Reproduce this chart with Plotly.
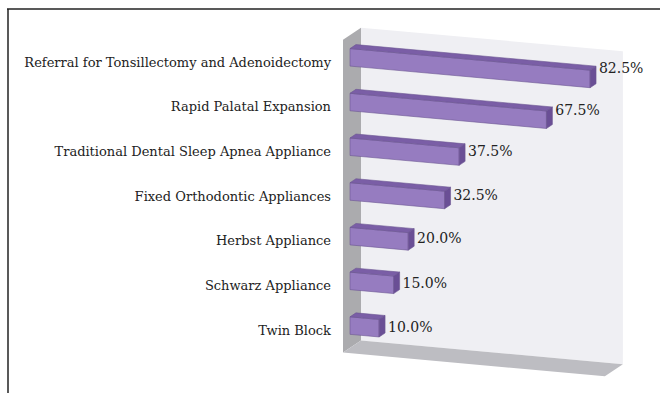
import plotly.graph_objects as go

# Survey results: share of respondents per treatment option
categories = [
    "Referral for Tonsillectomy and Adenoidectomy",
    "Rapid Palatal Expansion",
    "Traditional Dental Sleep Apnea Appliance",
    "Fixed Orthodontic Appliances",
    "Herbst Appliance",
    "Schwarz Appliance",
    "Twin Block",
]
values = [82.5, 67.5, 37.5, 32.5, 20.0, 15.0, 10.0]
axis_max = 90.0

# Oblique "3-D" projection expressed in axis units:
# x axis = percent, y axis = category rows (0 at top)
DX = 6.186       # depth shift along x per unit of depth
DY = -0.2684     # depth shift along y per unit of depth
SHEAR = 0.005858 # downward tilt of rows per percent
Z0, Z1 = 0.39, 0.72  # front/back depth of the bars
HALF_H = 0.196       # half bar thickness in row units
ROW_TOP, ROW_BOT = -0.5, len(categories) - 0.5

W, H, L = 660, 393, 343
px_per_pct = 2.91
row_px = 44.71
row0_px = 62.0


def proj(X, r, Z):
    return X + Z * DX, r + SHEAR * X + Z * DY


def poly(points):
    xs, ys = [], []
    for X, r, Z in points + [points[0]]:
        px, py = proj(X, r, Z)
        xs.append(px)
        ys.append(py)
    return xs, ys


fig = go.Figure()


def add_face(points, fill, line=None, width=0.0):
    xs, ys = poly(points)
    fig.add_trace(go.Scatter(
        x=xs, y=ys, mode="lines", fill="toself", fillcolor=fill,
        line=dict(color=line or fill, width=width),
        hoverinfo="skip", showlegend=False,
    ))


# back wall
add_face([(0, ROW_TOP, 1), (axis_max, ROW_TOP, 1), (axis_max, ROW_BOT, 1), (0, ROW_BOT, 1)],
         "#efeff3")
# side wall
add_face([(0, ROW_TOP, 0), (0, ROW_TOP, 1), (0, ROW_BOT, 1), (0, ROW_BOT, 0)], "#ababae")
# floor
add_face([(0, ROW_BOT, 0), (axis_max, ROW_BOT, 0), (axis_max, ROW_BOT, 1), (0, ROW_BOT, 1)],
         "#bdbdc2")

FRONT, TOP, SIDE, EDGE = "#967cc0", "#7a5ea6", "#6a4f95", "#6b5592"

for i, v in enumerate(values):
    t, b = i - HALF_H, i + HALF_H
    add_face([(0, t, Z0), (v, t, Z0), (v, b, Z0), (0, b, Z0)], FRONT, EDGE, 0.6)
    add_face([(0, t, Z0), (0, t, Z1), (v, t, Z1), (v, t, Z0)], TOP, EDGE, 0.6)
    add_face([(v, t, Z0), (v, t, Z1), (v, b, Z1), (v, b, Z0)], SIDE, EDGE, 0.6)

# value labels just beyond each bar end, raised a little more for longer bars
lab_x, lab_y = [], []
for i, v in enumerate(values):
    px, _ = proj(v, i, Z1)
    lab_x.append(px + 1.0)
    lab_y.append(i + (-3.5 + 0.13 * v) / row_px)
fig.add_trace(go.Scatter(
    x=lab_x, y=lab_y, mode="text", text=[f"{v:.1f}%" for v in values],
    textposition="middle right", cliponaxis=False,
    textfont=dict(family="DejaVu Serif", size=14, color="#222222"),
    hoverinfo="skip", showlegend=False,
))

fig.update_layout(
    width=W, height=H,
    margin=dict(l=L, r=0, t=0, b=0),
    paper_bgcolor="white", plot_bgcolor="white",
    xaxis=dict(range=[0, (W - L) / px_per_pct], visible=False, fixedrange=True),
    yaxis=dict(
        range=[(H - row0_px) / row_px, -row0_px / row_px],
        tickmode="array", tickvals=list(range(len(categories))), ticktext=categories,
        ticks="", showgrid=False, zeroline=False, showline=False,
        ticklabelstandoff=11,
        tickfont=dict(family="DejaVu Serif", size=13, color="#222222"),
        fixedrange=True,
    ),
    shapes=[
        dict(type="line", xref="paper", yref="paper",
             x0=(7 - L) / (W - L), x1=1, y0=1 - 9 / H, y1=1 - 9 / H,
             line=dict(color="#222222", width=1.5)),
        dict(type="line", xref="paper", yref="paper",
             x0=(8 - L) / (W - L), x1=(8 - L) / (W - L), y0=0, y1=1 - 9 / H,
             line=dict(color="#222222", width=1.5)),
    ],
)

fig.write_html("out.html")
